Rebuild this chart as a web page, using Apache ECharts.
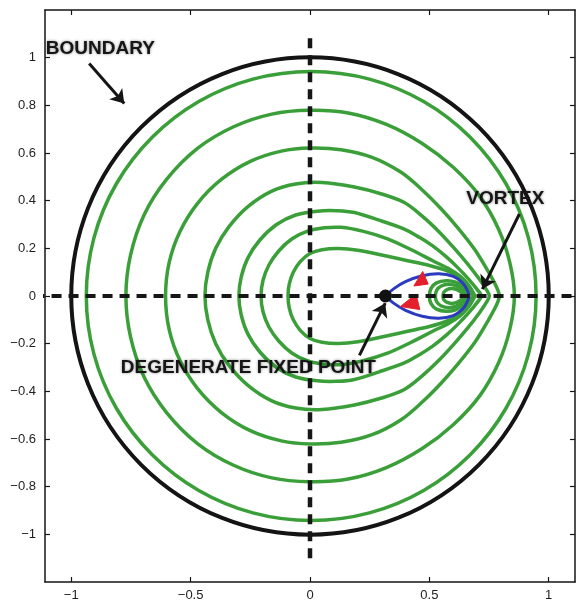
<!DOCTYPE html>
<html>
<head>
<meta charset="utf-8">
<script src="https://cdn.jsdelivr.net/npm/echarts@6/dist/echarts.min.js"></script>
<style>
  html, body { margin: 0; padding: 0; background: #ffffff; }
  #chart { width: 585px; height: 602px; }
</style>
</head>
<body>
<div id="chart"></div>
<script>
// Tick positions on both axes
const xTicks = [-1, -0.5, 0, 0.5, 1];
const yTicks = [-1, -0.8, -0.6, -0.4, -0.2, 0, 0.2, 0.4, 0.6, 0.8, 1];

// Streamlines, upper halves (x, y); each is mirrored about y = 0 to close the loop
const stream1 = [[-0.937, 0], [-0.905, 0.244], [-0.811, 0.471], [-0.661, 0.666], [-0.466, 0.816], [-0.239, 0.910],
  [0.005, 0.942], [0.249, 0.910], [0.476, 0.816], [0.671, 0.666], [0.821, 0.471], [0.915, 0.244], [0.947, 0]];
const stream2 = [[-0.771, 0], [-0.752, 0.17], [-0.695, 0.34], [-0.6, 0.49], [-0.47, 0.62], [-0.32, 0.71], [-0.16, 0.763],
  [0, 0.779], [0.16, 0.768], [0.32, 0.72], [0.47, 0.64], [0.6, 0.54], [0.71, 0.42], [0.79, 0.28], [0.837, 0.14], [0.856, 0]];
const stream3 = [[-0.605, 0], [-0.59, 0.14], [-0.545, 0.27], [-0.47, 0.39], [-0.37, 0.49], [-0.25, 0.565], [-0.12, 0.608],
  [0, 0.621], [0.13, 0.614], [0.26, 0.582], [0.38, 0.52], [0.47, 0.445], [0.55, 0.365], [0.62, 0.285], [0.69, 0.195],
  [0.745, 0.105], [0.78, 0.04], [0.793, 0]];
const stream4 = [[-0.44, 0], [-0.428, 0.1], [-0.395, 0.2], [-0.34, 0.29], [-0.26, 0.375], [-0.16, 0.44], [-0.06, 0.47],
  [0.05, 0.476], [0.186, 0.457], [0.3, 0.428], [0.395, 0.392], [0.47, 0.335], [0.54, 0.27], [0.6, 0.205], [0.66, 0.135],
  [0.71, 0.07], [0.74, 0.025], [0.751, 0]];
const stream5 = [[-0.298, 0], [-0.288, 0.08], [-0.26, 0.16], [-0.21, 0.235], [-0.14, 0.3], [-0.06, 0.34], [0.03, 0.356],
  [0.11, 0.358], [0.186, 0.35], [0.29, 0.318], [0.395, 0.281], [0.46, 0.245], [0.514, 0.21], [0.57, 0.165], [0.62, 0.118],
  [0.665, 0.07], [0.698, 0.03], [0.717, 0]];
const stream6 = [[-0.205, 0], [-0.197, 0.065], [-0.172, 0.13], [-0.13, 0.19], [-0.075, 0.24], [-0.01, 0.272], [0.06, 0.286],
  [0.13, 0.288], [0.22, 0.272], [0.325, 0.24], [0.42, 0.196], [0.514, 0.148], [0.58, 0.115], [0.63, 0.082], [0.665, 0.045],
  [0.683, 0.015], [0.69, 0]];
const stream7 = [[-0.092, 0], [-0.087, 0.05], [-0.07, 0.1], [-0.04, 0.145], [0.0, 0.178], [0.05, 0.194], [0.12, 0.199],
  [0.2, 0.192], [0.3, 0.172], [0.4, 0.15], [0.5, 0.128], [0.57, 0.107], [0.62, 0.08], [0.655, 0.045], [0.673, 0.015], [0.68, 0]];
// Small closed orbits inside the separatrix, around the vortex
const orbitA = [[0.5, 0], [0.507, 0.032], [0.53, 0.055], [0.57, 0.064], [0.61, 0.058], [0.64, 0.038], [0.655, 0.016], [0.66, 0]];
const orbitB = [[0.525, 0], [0.531, 0.025], [0.55, 0.042], [0.58, 0.049], [0.612, 0.043], [0.635, 0.028], [0.648, 0.012], [0.652, 0]];
const orbitC = [[0.557, 0], [0.561, 0.016], [0.574, 0.027], [0.593, 0.031], [0.615, 0.027], [0.631, 0.017], [0.64, 0.007], [0.643, 0]];

// Separatrix leaving the degenerate fixed point (upper half)
const separatrix = [[0.316, 0], [0.35, 0.03], [0.4, 0.06], [0.47, 0.085], [0.54, 0.093], [0.6, 0.082], [0.64, 0.054],
  [0.66, 0.022], [0.665, 0]];

const boundaryRadius = 1;
const fixedPoint = [[0.316, 0]];

// Direction arrowheads on the separatrix
const headUpper = [[0.472, 0.103], [0.435, 0.042], [0.495, 0.050]];
const headLower = [[0.379, -0.044], [0.444, 0.008], [0.46, -0.057]];

// Dashed symmetry lines
const lineHorizontal = [[-1.225, 0], [1.2, 0]];
const lineVertical = [[0, -1.1], [0, 1.1]];

// Annotation labels and their pointers
const labelNames = ['BOUNDARY', 'VORTEX', 'DEGENERATE FIXED POINT'];
const labelPositions = [[-0.878, 1.039], [0.818, 0.408], [-0.258, -0.30]];
const pointerTails = [[-0.925, 0.976], [0.877, 0.344], [0.207, -0.249]];
const pointerTips = [[-0.778, 0.808], [0.722, 0.029], [0.315, -0.030]];

// Closed ring: upper half, then the mirrored lower half (endpoints shared)
function mirrorRing(upper) {
  const lower = upper.slice(1, -1).reverse().map(p => [p[0], -p[1]]);
  return upper.concat(lower);
}
// Open path through the fixed point and back to it
function mirrorOpen(upper) {
  const lower = upper.slice(0, -1).reverse().map(p => [p[0], -p[1]]);
  return upper.concat(lower);
}

// Catmull-Rom spline through pixel points, written as SVG path data
function splinePath(pts, closed) {
  const n = pts.length;
  const at = i => closed ? pts[(i + n) % n] : pts[Math.max(0, Math.min(n - 1, i))];
  const f = v => v.toFixed(2);
  let d = 'M' + f(pts[0][0]) + ',' + f(pts[0][1]);
  const segs = closed ? n : n - 1;
  for (let i = 0; i < segs; i++) {
    const p0 = at(i - 1), p1 = at(i), p2 = at(i + 1), p3 = at(i + 2);
    const c1 = [p1[0] + (p2[0] - p0[0]) / 6, p1[1] + (p2[1] - p0[1]) / 6];
    const c2 = [p2[0] - (p3[0] - p1[0]) / 6, p2[1] - (p3[1] - p1[1]) / 6];
    d += ' C' + f(c1[0]) + ',' + f(c1[1]) + ' ' + f(c2[0]) + ',' + f(c2[1]) + ' ' + f(p2[0]) + ',' + f(p2[1]);
  }
  if (closed) d += ' Z';
  return d;
}

const GREEN = '#3b9f39';
const loops = [stream1, stream2, stream3, stream4, stream5, stream6, stream7, orbitA, orbitB, orbitC].map(mirrorRing);

const minus = v => (v < 0 ? '\u2212' + Math.abs(v) : String(v));
const FONT = 'Liberation Sans, Arial, Helvetica, sans-serif';

const series = [];

// green streamlines
series.push({
  type: 'custom', silent: true, z: 2,
  data: loops.map((l, i) => i),
  renderItem: function (params, api) {
    const pts = loops[params.dataIndex].map(p => api.coord(p));
    return {
      type: 'path', shape: { pathData: splinePath(pts, true) },
      style: { fill: 'none', stroke: GREEN, lineWidth: 3.5, lineJoin: 'round' }
    };
  }
});

// boundary circle
series.push({
  type: 'custom', silent: true, z: 3,
  data: [[0, 0]],
  renderItem: function (params, api) {
    const c = api.coord([api.value(0), api.value(1)]);
    const r = api.size([boundaryRadius, 0])[0];
    return { type: 'circle', shape: { cx: c[0], cy: c[1], r: r }, style: { fill: 'none', stroke: '#141414', lineWidth: 4 } };
  }
});

// separatrix
const sepPath = mirrorOpen(separatrix);
series.push({
  type: 'custom', silent: true, z: 3,
  data: [0],
  renderItem: function (params, api) {
    const pts = sepPath.map(p => api.coord(p));
    return {
      type: 'path', shape: { pathData: splinePath(pts, false) },
      style: { fill: 'none', stroke: '#2a3bbf', lineWidth: 3, lineJoin: 'round' }
    };
  }
});

const heads = [headUpper, headLower];
series.push({
  type: 'custom', silent: true, z: 4,
  data: [0, 1],
  renderItem: function (params, api) {
    const pts = heads[params.dataIndex].map(p => api.coord(p));
    return { type: 'polygon', shape: { points: pts }, style: { fill: '#e3202b', stroke: '#e3202b', lineWidth: 1 } };
  }
});

[lineHorizontal, lineVertical].forEach((l, i) => {
  series.push({
    type: 'line', data: l, showSymbol: false, silent: true, clip: false,
    lineStyle: { color: '#161616', width: i === 0 ? 4 : 4.5, type: [10, 7] }, z: 5
  });
});

series.push({
  type: 'scatter', data: fixedPoint, symbolSize: 13, silent: true,
  itemStyle: { color: '#111111', opacity: 1 }, z: 6
});

series.push({
  type: 'lines', coordinateSystem: 'cartesian2d', silent: true, z: 7,
  symbol: ['none', 'arrow'], symbolSize: 13,
  lineStyle: { color: '#151515', width: 3, opacity: 1 },
  data: pointerTails.map((t, i) => ({ coords: [t, pointerTips[i]] }))
});

series.push({
  type: 'scatter', silent: true, z: 8, symbolSize: 1,
  itemStyle: { color: 'rgba(255,255,255,0)', opacity: 1 },
  data: labelNames.map((n, i) => ({ name: n, value: labelPositions[i] })),
  label: {
    show: true, position: 'inside', formatter: '{b}',
    fontFamily: FONT, fontSize: 19, fontWeight: 'bold', color: '#161616',
    textBorderWidth: 0,
    textShadowColor: 'rgba(0,0,0,0.45)', textShadowBlur: 3
  }
});

const baseX = {
  type: 'value', min: -1.11, max: 1.11,
  axisLine: { show: true, onZero: false, lineStyle: { color: '#151515', width: 1.5 } },
  splitLine: { show: false }
};
const baseY = {
  type: 'value', min: -1.2, max: 1.2,
  axisLine: { show: true, onZero: false, lineStyle: { color: '#151515', width: 1.5 } },
  splitLine: { show: false }
};

const chart = echarts.init(document.getElementById('chart'), null, { renderer: 'canvas' });
chart.setOption({
  animation: false,
  backgroundColor: '#ffffff',
  grid: { left: 45, right: 10, top: 10, bottom: 20 },
  xAxis: [
    Object.assign({}, baseX, {
      position: 'bottom',
      axisTick: { show: true, inside: true, length: 5, customValues: xTicks, lineStyle: { color: '#151515', width: 1.2 } },
      axisLabel: { show: true, customValues: xTicks, formatter: minus, margin: 7, fontFamily: FONT, fontSize: 13, color: '#1e1e1e' }
    }),
    Object.assign({}, baseX, {
      position: 'top',
      axisTick: { show: true, inside: true, length: 5, customValues: xTicks, lineStyle: { color: '#151515', width: 1.2 } },
      axisLabel: { show: false }
    })
  ],
  yAxis: [
    Object.assign({}, baseY, {
      position: 'left',
      axisTick: { show: true, inside: true, length: 5, customValues: yTicks, lineStyle: { color: '#151515', width: 1.2 } },
      axisLabel: { show: true, customValues: yTicks, formatter: minus, margin: 9, fontFamily: FONT, fontSize: 13, color: '#1e1e1e' }
    }),
    Object.assign({}, baseY, {
      position: 'right',
      axisTick: { show: true, inside: true, length: 5, customValues: yTicks, lineStyle: { color: '#151515', width: 1.2 } },
      axisLabel: { show: false }
    })
  ],
  series: series
});
</script>
</body>
</html>
